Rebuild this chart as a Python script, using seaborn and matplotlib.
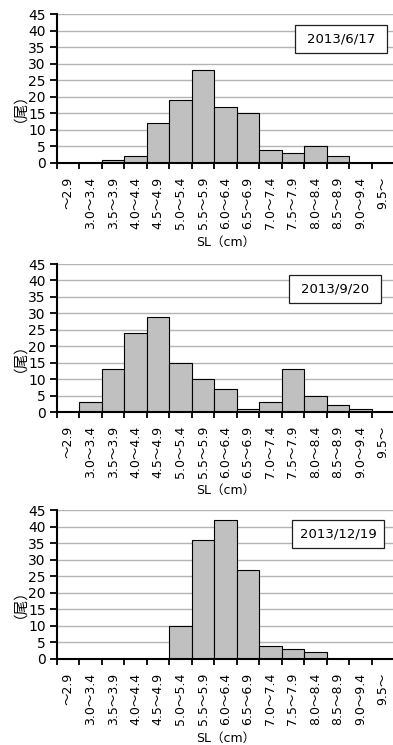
"""
体長組成ヒストグラム（3回の調査日）
"""

import matplotlib
matplotlib.use('Agg')
import matplotlib.pyplot as plt
import matplotlib.patches as mpatches
import seaborn as sns
import pandas as pd

# 体長階級
classes = ['～2.9', '3.0～3.4', '3.5～3.9', '4.0～4.4', '4.5～4.9',
           '5.0～5.4', '5.5～5.9', '6.0～6.4', '6.5～6.9', '7.0～7.4',
           '7.5～7.9', '8.0～8.4', '8.5～8.9', '9.0～9.4', '9.5～']

dates = ['2013/6/17', '2013/9/20', '2013/12/19']

# 尾数
counts_jun = [0, 0, 1, 2, 12, 19, 28, 17, 15, 4, 3, 5, 2, 0, 0]
counts_sep = [0, 3, 13, 24, 29, 15, 10, 7, 1, 3, 13, 5, 2, 1, 0]
counts_dec = [0, 0, 0, 0, 0, 10, 36, 42, 27, 4, 3, 2, 0, 0, 0]

y_ticks = list(range(0, 50, 5))

frames = []
for d, c in zip(dates, [counts_jun, counts_sep, counts_dec]):
    frames.append(pd.DataFrame({'class': classes, 'count': c, 'date': d}))
df = pd.concat(frames, ignore_index=True)

sns.set_style('white', {'text.color': 'black', 'xtick.color': 'black',
                        'ytick.color': 'black', 'axes.labelcolor': 'black'})
plt.rcParams['font.family'] = ['DejaVu Sans', 'Noto Sans CJK JP']

W, H = 393, 745
fig = plt.figure(figsize=(W / 100, H / 100), dpi=100)

# (top, height) of each plot area in pixels
panel_px = [(14, 149), (264, 148), (510, 149)]
# date box position in axes fraction (x0, y0)
box_pos = [(0.706, 0.738), (0.688, 0.736), (0.697, 0.745)]

for (top, h), d, (bx, by) in zip(panel_px, dates, box_pos):
    ax = fig.add_axes([57 / W, 1 - (top + h) / H, 337 / W, h / H])
    sub = df[df['date'] == d]
    sns.barplot(data=sub, x='class', y='count', order=classes, ax=ax,
                color='#c0c0c0', saturation=1, width=1,
                edgecolor='black', linewidth=0.8, zorder=3)

    ax.set_xlim(-0.5, len(classes) - 0.5)
    ax.set_ylim(0, 45)
    ax.set_yticks(y_ticks)
    ax.yaxis.grid(True, color='#b4b4b4', linewidth=1.0, zorder=0)
    ax.set_axisbelow(True)

    for s in ['top', 'right']:
        ax.spines[s].set_visible(False)
    for s in ['left', 'bottom']:
        ax.spines[s].set_color('black')
        ax.spines[s].set_linewidth(1.5)
        ax.spines[s].set_zorder(5)

    # 階級の境目に目盛り
    ax.set_xticks([i - 0.5 for i in range(len(classes) + 1)], minor=True)
    ax.tick_params(axis='x', which='minor', length=4, width=1.3,
                   color='black', direction='out', bottom=True)
    ax.tick_params(axis='x', which='major', length=0, pad=10,
                   labelsize=9, labelrotation=90, labelcolor='black')
    ax.tick_params(axis='y', length=5, width=1.3, color='black',
                   direction='out', left=True, pad=3, labelsize=10,
                   labelcolor='black')

    ax.set_xlabel('')
    ax.set_ylabel('')
    ax.text(0.5, -0.53, 'SL（cm）', transform=ax.transAxes,
            ha='center', va='center', fontsize=9, color='black')
    ax.text(-0.135, 0.42, '（尾）', transform=ax.transAxes, rotation=90,
            ha='center', va='center', fontsize=10.5, color='black')

    rect = mpatches.Rectangle((bx, by), 0.273, 0.188, transform=ax.transAxes,
                              facecolor='white', edgecolor='#202020',
                              linewidth=0.9, zorder=6)
    ax.add_patch(rect)
    ax.text(bx + 0.273 / 2, by + 0.188 / 2, d, transform=ax.transAxes,
            ha='center', va='center', fontsize=9.5, color='black', zorder=7)

fig.savefig('out.png', dpi=100)
